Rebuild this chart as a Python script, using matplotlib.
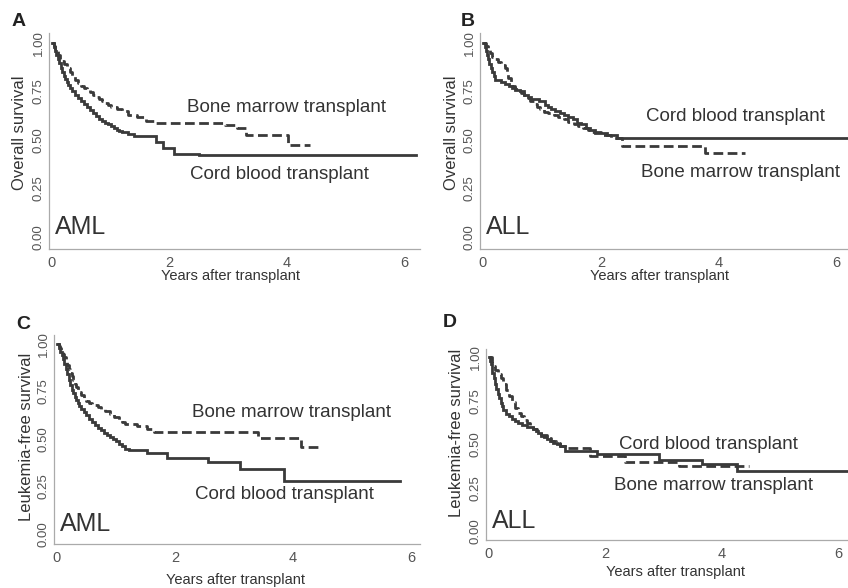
import numpy as np
import matplotlib
matplotlib.use("Agg")
import matplotlib.pyplot as plt

plt.rcParams['font.family'] = ['Liberation Sans', 'DejaVu Sans']

W, H = 848, 588

# ---------------- data (Kaplan-Meier steps) ----------------
# Panel A: AML, overall survival
a_cord_t = [0, 0.03, 0.05, 0.075, 0.1, 0.125, 0.15, 0.175, 0.2, 0.225, 0.25, 0.275, 0.3, 0.35, 0.4, 0.45,
            0.5, 0.55, 0.6, 0.65, 0.7, 0.75, 0.8, 0.85, 0.9, 0.95, 1.0, 1.05, 1.1, 1.15, 1.2, 1.3, 1.4,
            1.78, 1.9, 2.08, 2.5]
a_cord_s = [1.0, 0.98, 0.96, 0.94, 0.92, 0.895, 0.87, 0.85, 0.83, 0.815, 0.80, 0.785, 0.77, 0.75, 0.73, 0.715,
            0.70, 0.685, 0.67, 0.655, 0.64, 0.625, 0.61, 0.60, 0.59, 0.58, 0.57, 0.56, 0.55, 0.545, 0.54, 0.53, 0.52,
            0.49, 0.46, 0.43, 0.42]
a_cord_end = 6.2
a_bm_t = [0, 0.03, 0.06, 0.1, 0.13, 0.16, 0.2, 0.25, 0.3, 0.35, 0.4, 0.45, 0.5, 0.55, 0.6, 0.65, 0.7, 0.75,
          0.8, 0.85, 0.9, 0.95, 1.0, 1.1, 1.2, 1.3, 1.45, 1.6, 1.75, 2.2, 2.95, 3.15, 3.3, 4.02]
a_bm_s = [1.0, 0.985, 0.965, 0.94, 0.92, 0.905, 0.89, 0.87, 0.85, 0.83, 0.81, 0.795, 0.78, 0.77, 0.76, 0.745, 0.73, 0.72,
          0.71, 0.70, 0.69, 0.68, 0.67, 0.66, 0.65, 0.63, 0.62, 0.60, 0.59, 0.585, 0.575, 0.56, 0.525, 0.475]
a_bm_end = 4.4

# Panel B: ALL, overall survival
b_cord_t = [0, 0.03, 0.05, 0.07, 0.09, 0.11, 0.13, 0.15, 0.18, 0.2, 0.3, 0.38, 0.45, 0.5, 0.55, 0.62, 0.7,
            0.76, 0.82, 0.95, 1.05, 1.1, 1.16, 1.23, 1.3, 1.38, 1.45, 1.52, 1.6, 1.67, 1.75, 1.82, 1.9, 2.1, 2.28]
b_cord_s = [1.0, 0.98, 0.96, 0.94, 0.92, 0.89, 0.87, 0.85, 0.83, 0.81, 0.80, 0.79, 0.78, 0.77, 0.76, 0.75, 0.73,
            0.72, 0.71, 0.70, 0.68, 0.67, 0.66, 0.65, 0.64, 0.63, 0.62, 0.61, 0.59, 0.58, 0.56, 0.55, 0.535, 0.525, 0.51]
b_cord_end = 6.3
b_bm_t = [0, 0.05, 0.08, 0.12, 0.15, 0.2, 0.25, 0.3, 0.37, 0.4, 0.43, 0.47, 0.5, 0.55, 0.6, 0.65, 0.7, 0.75,
          0.8, 0.86, 0.92, 0.97, 1.03, 1.1, 1.2, 1.28, 1.37, 1.45, 1.55, 1.62, 1.7, 1.78, 1.85, 2.0, 2.17, 2.35, 3.76]
b_bm_s = [1.0, 0.985, 0.97, 0.95, 0.93, 0.915, 0.90, 0.885, 0.87, 0.85, 0.82, 0.80, 0.78, 0.765, 0.75, 0.74, 0.73, 0.715,
          0.70, 0.685, 0.67, 0.66, 0.645, 0.64, 0.63, 0.62, 0.61, 0.595, 0.58, 0.57, 0.56, 0.55, 0.54, 0.525, 0.51, 0.47, 0.435]
b_bm_end = 4.45

# Panel C: AML, leukemia-free survival
c_cord_t = [0, 0.03, 0.06, 0.08, 0.1, 0.125, 0.15, 0.175, 0.2, 0.225, 0.25, 0.275, 0.3, 0.325, 0.35, 0.375,
            0.4, 0.45, 0.5, 0.55, 0.6, 0.65, 0.7, 0.75, 0.8, 0.85, 0.9, 0.95, 1.0, 1.05, 1.1, 1.16, 1.22,
            1.52, 1.87, 2.56, 3.1, 3.85]
c_cord_s = [1.0, 0.98, 0.96, 0.94, 0.92, 0.895, 0.87, 0.84, 0.81, 0.785, 0.76, 0.74, 0.72, 0.705, 0.69, 0.675,
            0.66, 0.64, 0.625, 0.605, 0.59, 0.575, 0.56, 0.545, 0.53, 0.52, 0.51, 0.50, 0.49, 0.475, 0.465, 0.45, 0.44,
            0.425, 0.40, 0.38, 0.34, 0.28]
c_cord_end = 5.81
c_bm_t = [0, 0.03, 0.05, 0.075, 0.1, 0.125, 0.15, 0.175, 0.2, 0.225, 0.25, 0.275, 0.3, 0.325, 0.35, 0.375,
          0.4, 0.45, 0.5, 0.55, 0.6, 0.7, 0.75, 0.82, 0.9, 0.97, 1.05, 1.1, 1.15, 1.35, 1.52, 1.65, 3.4, 4.13]
c_bm_s = [1.0, 0.99, 0.98, 0.965, 0.95, 0.93, 0.91, 0.89, 0.87, 0.85, 0.83, 0.81, 0.79, 0.775, 0.76, 0.745,
          0.73, 0.715, 0.70, 0.69, 0.68, 0.67, 0.66, 0.645, 0.63, 0.615, 0.60, 0.59, 0.58, 0.57, 0.555, 0.535, 0.505, 0.46]
c_bm_end = 4.49

# Panel D: ALL, leukemia-free survival
d_cord_t = [0, 0.02, 0.03, 0.045, 0.06, 0.08, 0.1, 0.125, 0.15, 0.175, 0.2, 0.225, 0.25, 0.3, 0.35, 0.4,
            0.45, 0.5, 0.575, 0.65, 0.75, 0.8, 0.85, 0.9, 0.95, 1.0, 1.05, 1.1, 1.16, 1.22, 1.3, 1.85, 2.92, 3.65, 4.25]
d_cord_s = [1.0, 0.98, 0.96, 0.935, 0.91, 0.88, 0.85, 0.82, 0.79, 0.765, 0.74, 0.72, 0.70, 0.675, 0.66, 0.645,
            0.635, 0.625, 0.61, 0.60, 0.585, 0.575, 0.565, 0.55, 0.54, 0.53, 0.52, 0.51, 0.50, 0.49, 0.46, 0.445, 0.41, 0.385, 0.347]
d_cord_end = 6.3
d_bm_t = [0, 0.05, 0.08, 0.1, 0.15, 0.2, 0.25, 0.3, 0.35, 0.4, 0.45, 0.5, 0.55, 0.6, 0.65, 0.7, 0.76,
          0.82, 0.9, 1.0, 1.07, 1.15, 1.22, 1.3, 1.74, 2.34, 3.26]
d_bm_s = [1.0, 0.97, 0.95, 0.93, 0.905, 0.88, 0.845, 0.81, 0.78, 0.745, 0.71, 0.68, 0.66, 0.64, 0.625, 0.61, 0.59,
          0.575, 0.555, 0.535, 0.52, 0.505, 0.49, 0.48, 0.43, 0.395, 0.375]
d_bm_end = 4.46

x_ticks = [0, 2, 4, 6]
y_ticks = [0.00, 0.25, 0.50, 0.75, 1.00]
y_tick_labels = ["0.00", "0.25", "0.50", "0.75", "1.00"]
x_label = "Years after transplant"

LINE = '#3a3a3a'
TXT = '#333333'
TICK = '#555555'

fig = plt.figure(figsize=(W / 100, H / 100), dpi=100)


def add_ax(l, t, r, b):
    return fig.add_axes([l / W, 1 - b / H, (r - l) / W, (b - t) / H])


def km(ax, t, s, end, dashed):
    tt = np.append(t, end)
    ss = np.append(s, s[-1])
    kw = dict(color=LINE, lw=2.0, where='post', solid_joinstyle='miter')
    if dashed:
        ax.step(tt, ss, linestyle=(0, (3.5, 1.6)), dash_capstyle='butt', **kw)
    else:
        ax.step(tt, ss, **kw)


def style(ax, xlim, ylim):
    ax.set_xlim(*xlim)
    ax.set_ylim(*ylim)
    for sp in ['top', 'right']:
        ax.spines[sp].set_visible(False)
    for sp in ['left', 'bottom']:
        ax.spines[sp].set_color('#aaaaaa')
        ax.spines[sp].set_linewidth(0.9)
    ax.set_xticks(x_ticks)
    ax.set_xticklabels([str(v) for v in x_ticks])
    ax.set_yticks(y_ticks)
    ax.set_yticklabels(y_tick_labels, rotation=90, va='center')
    ax.tick_params(axis='x', length=0, pad=5.5, labelsize=10.5, labelcolor=TICK)
    ax.tick_params(axis='y', length=0, pad=3, labelsize=9.5, labelcolor=TICK)
    ax.patch.set_alpha(0)


panels = [
    dict(box=(49, 33.3, 420, 248.6), xlim=(-0.05, 6.27), ylim=(-0.06, 1.05),
         cord=(a_cord_t, a_cord_s, a_cord_end), bm=(a_bm_t, a_bm_s, a_bm_end),
         letter="A", lpos=(12, 26), ylab="Overall survival", ylpos=(20, 133), xlpos=(230, 276),
         dis="AML", texts=[("Bone marrow transplant", 2.3, 0.665), ("Cord blood transplant", 2.35, 0.32)]),
    dict(box=(480, 33.3, 848, 248.6), xlim=(-0.05, 6.19), ylim=(-0.06, 1.05),
         cord=(b_cord_t, b_cord_s, b_cord_end), bm=(b_bm_t, b_bm_s, b_bm_end),
         letter="B", lpos=(461, 26), ylab="Overall survival", ylpos=(451, 133), xlpos=(660, 276),
         dis="ALL", texts=[("Cord blood transplant", 2.76, 0.62), ("Bone marrow transplant", 2.68, 0.33)]),
    dict(box=(54, 334.5, 420, 543.5), xlim=(-0.05, 6.15), ylim=(-0.05, 1.05),
         cord=(c_cord_t, c_cord_s, c_cord_end), bm=(c_bm_t, c_bm_s, c_bm_end),
         letter="C", lpos=(16, 329), ylab="Leukemia-free survival", ylpos=(27, 437), xlpos=(236, 580),
         dis="AML", texts=[("Bone marrow transplant", 2.29, 0.64), ("Cord blood transplant", 2.34, 0.21)]),
    dict(box=(486, 348.8, 848, 539.7), xlim=(-0.05, 6.16), ylim=(-0.05, 1.05),
         cord=(d_cord_t, d_cord_s, d_cord_end), bm=(d_bm_t, d_bm_s, d_bm_end),
         letter="D", lpos=(443, 327), ylab="Leukemia-free survival", ylpos=(457, 433), xlpos=(675, 572),
         dis="ALL", texts=[("Cord blood transplant", 2.23, 0.50), ("Bone marrow transplant", 2.14, 0.26)]),
]

for p in panels:
    ax = add_ax(*p['box'])
    style(ax, p['xlim'], p['ylim'])
    km(ax, *p['bm'], dashed=True)
    km(ax, *p['cord'], dashed=False)
    for txt, x, y in p['texts']:
        ax.text(x, y, txt, fontsize=13.5, color=TXT, ha='left', va='center')
    ax.text(0.05, 0.015, p['dis'], fontsize=18, color=TXT, ha='left', va='baseline')
    fig.text(p['lpos'][0] / W, 1 - p['lpos'][1] / H, p['letter'], fontsize=14,
             fontweight='bold', color='#222222', ha='left', va='baseline')
    fig.text(p['ylpos'][0] / W, 1 - p['ylpos'][1] / H, p['ylab'], fontsize=12,
             color=TXT, rotation=90, ha='center', va='center')
    fig.text(p['xlpos'][0] / W, 1 - p['xlpos'][1] / H, x_label, fontsize=10.5,
             color=TXT, ha='center', va='center')

fig.savefig("out.png", dpi=100, facecolor='white')
